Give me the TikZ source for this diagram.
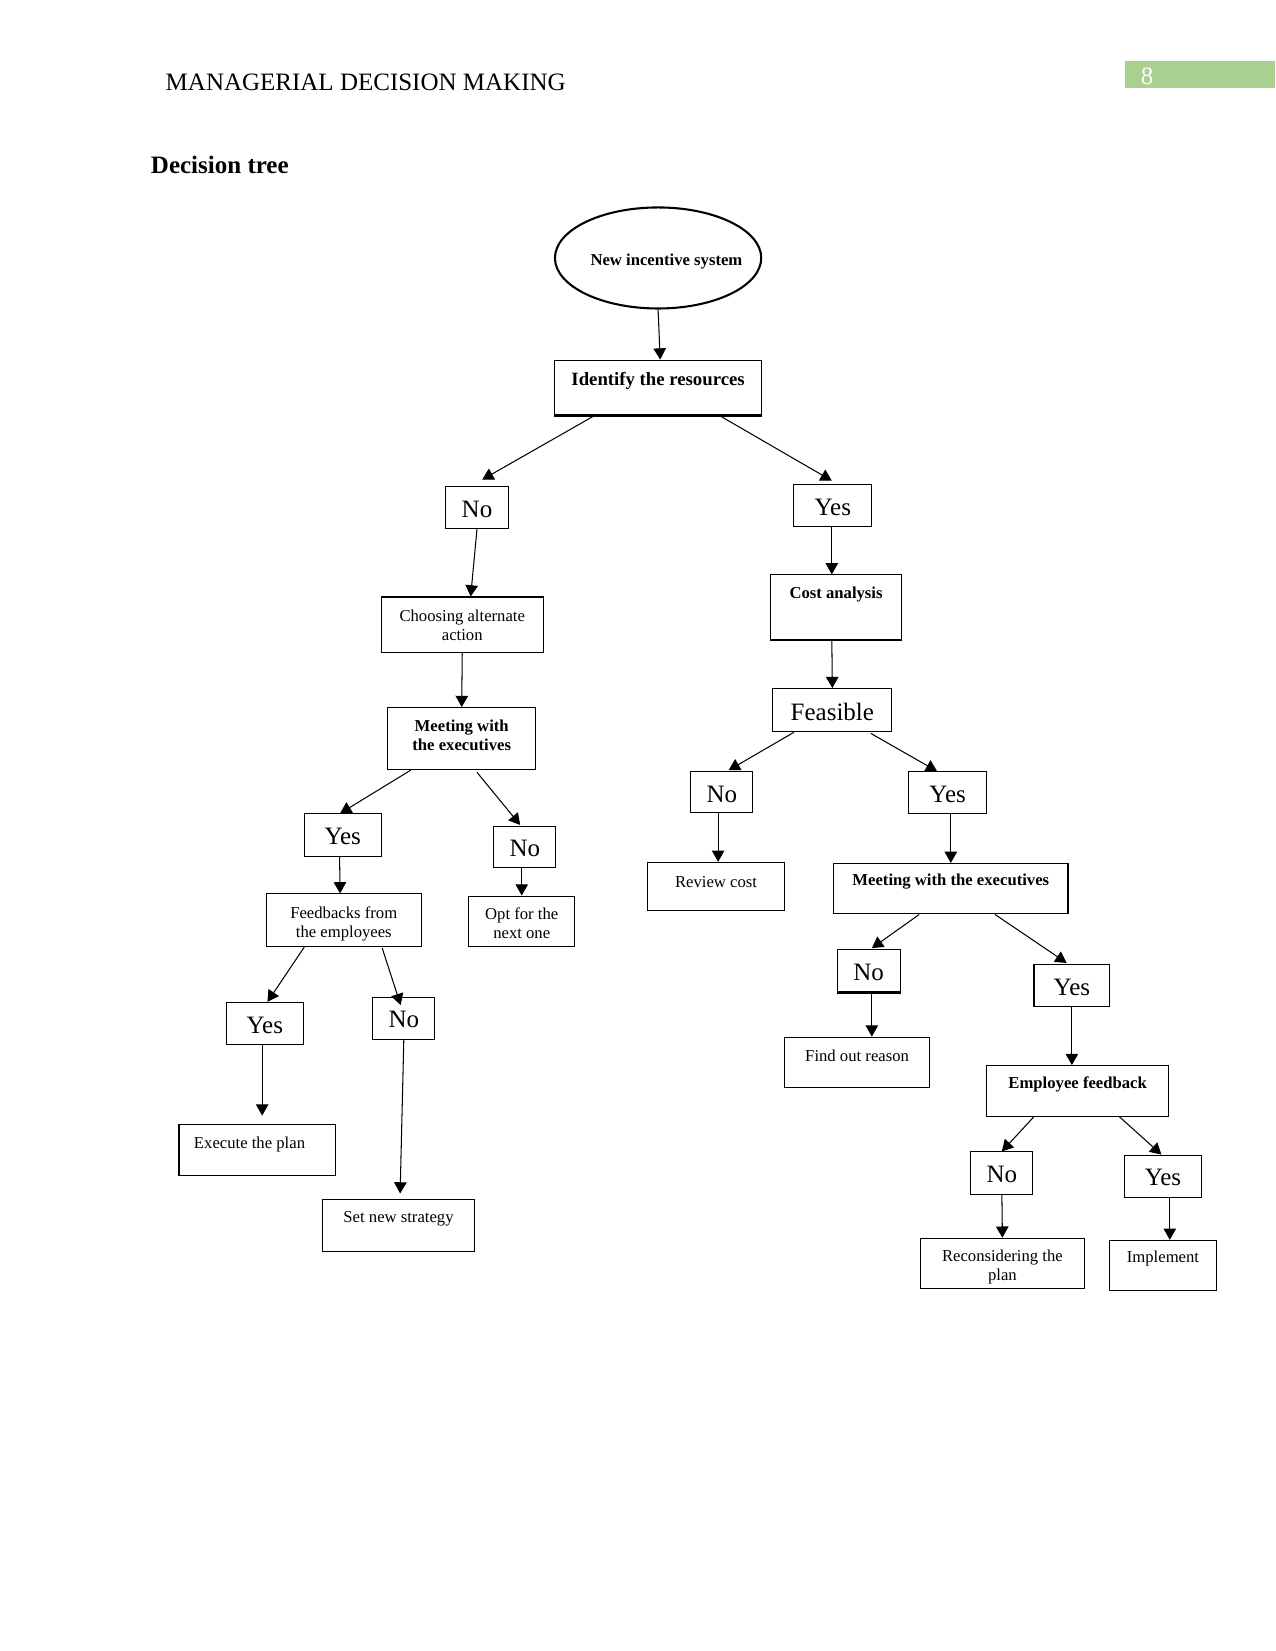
\documentclass[tikz,border=0pt]{standalone}
\usepackage{fontspec}
\setmainfont{Liberation Serif}
\usetikzlibrary{arrows.meta,shapes.geometric,fit,calc}
\definecolor{pagegreen}{HTML}{A9D08E}
\begin{document}
\begin{tikzpicture}[x=0.50537pt,y=-0.50537pt,
  box/.style={draw, line width=0.5pt, inner sep=0pt, rectangle},
  yn/.style={font=\fontsize{12}{14}\selectfont, yshift=-0.8pt},
  sm/.style={font=\fontsize{8}{9.2}\selectfont, align=center},
  smb/.style={font=\fontsize{8}{9.2}\selectfont\bfseries, align=center},
  arr/.style={-{Triangle[length=5.4pt,width=6pt]}, line width=0.5pt}]
\useasboundingbox (0,0) rectangle (1211,1568);
% header
\node[anchor=base west, inner sep=0pt, font=\fontsize{12}{14}\selectfont] (hdr) at (157,86) {MANAGERIAL DECISION MAKING};
\node[fill=pagegreen, inner sep=0pt, fit={(1068,58)(1211,84)}] (pg) {};
\node[anchor=base west, inner sep=0pt, text=white, font=\fontsize{12}{14}\selectfont] (pgn) at (1083,80) {8};
\node[anchor=base west, inner sep=0pt, font=\fontsize{12}{14}\selectfont\bfseries] (ttl) at (143,165) {Decision tree};
% nodes
\node[draw, ellipse, line width=1pt, inner sep=0pt, minimum width=99pt, minimum height=48.5pt,
      label={[smb, xshift=4pt, yshift=-1.5pt]center:New incentive system}] (ell) at (625,245) {};
\node[box, fit={(527,342)(723,394)}, label={[font=\fontsize{9}{11}\selectfont\bfseries, yshift=3pt]center:Identify the resources}] (ident) {};
\node[box, fit={(423,462)(483,502)}, label={[yn]center:No}] (no1) {};
\node[box, fit={(754,460)(828,500)}, label={[yn]center:Yes}] (yes1) {};
\node[box, fit={(362,567)(516,620)}, label={[sm]center:Choosing alternate\\action}] (choose) {};
\node[box, fit={(732,546)(856,607)}, label={[smb, yshift=5.8pt]center:Cost analysis}] (cost) {};
\node[box, fit={(368,672)(509,731)}, label={[smb, yshift=1.7pt]center:Meeting with\\the executives}] (meetL) {};
\node[box, fit={(734,654)(847,695)}, label={[yn]center:Feasible}] (feas) {};
\node[box, fit={(289,773)(362,813)}, label={[yn]center:Yes}] (yes2) {};
\node[box, fit={(469,785)(528,824)}, label={[yn]center:No}] (no2) {};
\node[box, fit={(253,849)(400,899)}, label={[sm, yshift=-1.8pt]center:Feedbacks from\\the employees}] (feedb) {};
\node[box, fit={(445,851)(546,899)}, label={[sm, yshift=-1pt]center:Opt for the\\next one}] (opt) {};
\node[box, fit={(656,733)(715,772)}, label={[yn]center:No}] (no3) {};
\node[box, fit={(863,733)(937,773)}, label={[yn]center:Yes}] (yes3) {};
\node[box, fit={(615,819)(745,865)}, label={[sm, yshift=2.3pt]center:Review cost}] (review) {};
\node[box, fit={(792,820)(1014,868)}, label={[smb, yshift=3.2pt]center:Meeting with the executives}] (meetR) {};
\node[box, fit={(215,952)(288,992)}, label={[yn]center:Yes}] (yes4) {};
\node[box, fit={(354,947)(413,987)}, label={[yn]center:No}] (no4) {};
\node[box, fit={(170,1068)(319,1116)}, label={[sm, yshift=2.6pt, xshift=-3.8pt]center:Execute the plan}] (exec) {};
\node[box, fit={(306,1139)(451,1189)}, label={[sm, yshift=3.2pt]center:Set new strategy}] (setnew) {};
\node[box, fit={(795,902)(855,942)}, label={[yn]center:No}] (no5) {};
\node[box, fit={(982,916)(1054,956)}, label={[yn]center:Yes}] (yes5) {};
\node[box, fit={(745,985)(883,1033)}, label={[sm, yshift=3.2pt]center:Find out reason}] (find) {};
\node[box, fit={(937,1012)(1110,1060)}, label={[smb, yshift=3.2pt]center:Employee feedback}] (empf) {};
\node[box, fit={(922,1094)(981,1134)}, label={[yn]center:No}] (no6) {};
\node[box, fit={(1068,1097)(1141,1137)}, label={[yn]center:Yes}] (yes6) {};
\node[box, fit={(874,1176)(1030,1224)}, label={[sm, yshift=-1.5pt]center:Reconsidering the\\plan}] (recon) {};
\node[box, fit={(1054,1178)(1155,1226)}, label={[sm, yshift=3.2pt]center:Implement}] (impl) {};
% thicker edges
\draw[line width=1.1pt] (ident.south west) -- (ident.south east);
\draw[line width=1.1pt] (cost.south west) -- (cost.south east);
\draw[line width=1.1pt] (meetR.north east) -- (meetR.south east);
\draw[line width=1.1pt] (no5.south west) -- (no5.south east);
% connectors
\draw[arr] (ell.south) -- ($(ident.north)+(2,0)$);
\draw[arr] ($(ident.south)+(-60,0)$) -- ($(no1.north)+(5,-6)$);
\draw[arr] ($(ident.south)+(58,0)$) -- ($(yes1.north)+(-1,-3)$);
\draw[arr] (no1.south) -- ($(choose.north)+(8,0)$);
\draw[arr] ($(yes1.south)+(-1,0)$) -- ($(cost.north)+(-4,0)$);
\draw[arr] (choose.south) -- (meetL.north);
\draw[arr] ($(cost.south)+(-4,0)$) -- (feas.north);
\draw[arr] ($(meetL.south)+(-48.5,0)$) -- ($(yes2.north)+(-2.5,0)$);
\draw[arr] ($(meetL.south)+(14.5,2)$) -- ($(no2.north)+(-4.5,-1)$);
\draw[arr] ($(yes2.south)+(-3,0)$) -- ($(feedb.north)+(-3.5,0)$);
\draw[arr] ($(no2.south)+(-3,0)$) -- (opt.north);
\draw[arr] ($(feas.south)+(-36.5,0)$) -- ($(no3.north)+(6.5,-1)$);
\draw[arr] ($(feas.south)+(36.5,1)$) -- ($(yes3.north)+(-10,0)$);
\draw[arr] ($(no3.south)+(-3.5,0)$) -- ($(review.north)+(2,0)$);
\draw[arr] ($(yes3.south)+(3,0)$) -- (meetR.north);
\draw[arr] ($(feedb.south)+(-37.5,0)$) -- ($(yes4.north)+(2.5,0)$);
\draw[arr] ($(feedb.south)+(36.5,1)$) -- ($(no4.north)+(-3,8)$);
\draw[arr] ($(yes4.south)+(-2.5,0)$) -- ($(exec.north)+(4.5,-8)$);
\draw[arr] (no4.south) -- ($(setnew.north)+(1.5,-5)$);
\draw[arr] ($(meetR.south)+(-30,0)$) -- ($(no5.north)+(3,-1)$);
\draw[arr] ($(meetR.south)+(42,0)$) -- ($(yes5.north)+(-5,-1)$);
\draw[arr] ($(no5.south)+(3,0)$) -- ($(find.north)+(14,0)$);
\draw[arr] (yes5.south) -- ($(empf.north)+(-5.5,0)$);
\draw[arr] ($(empf.south)+(-41.5,0)$) -- (no6.north);
\draw[arr] ($(empf.south)+(39.5,0)$) -- ($(yes6.north)+(-1.5,0)$);
\draw[arr] (no6.south) -- (recon.north);
\draw[arr] ($(yes6.south)+(6.5,0)$) -- ($(impl.north)+(6.5,0)$);
\end{tikzpicture}
\end{document}
